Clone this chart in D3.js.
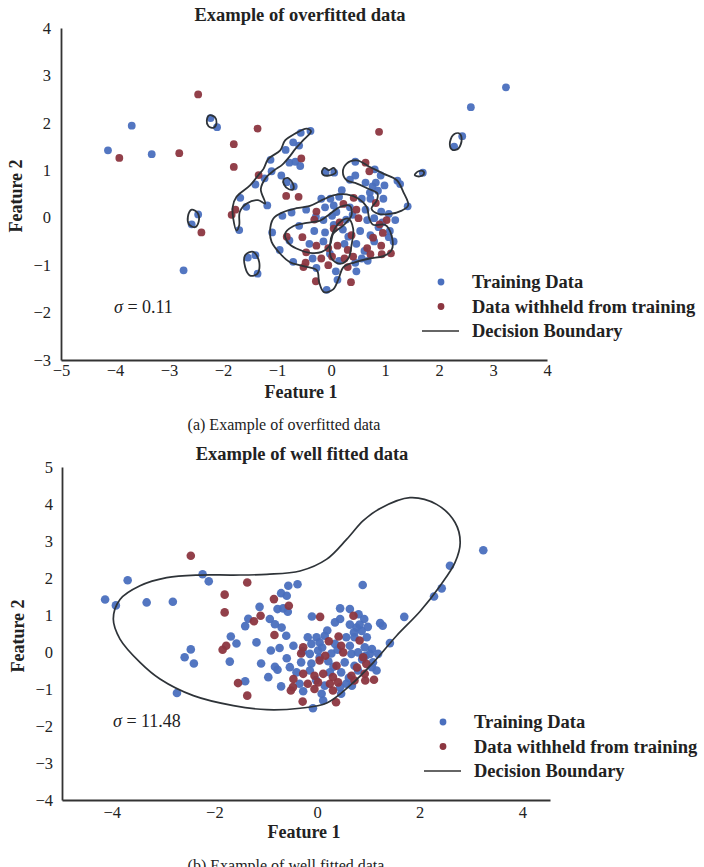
<!DOCTYPE html>
<html>
<head>
<meta charset="utf-8">
<script src="https://cdn.jsdelivr.net/npm/d3@7"></script>
<style>
  body { margin: 0; background: #fff; }
  svg text { font-family: "Liberation Serif", "DejaVu Serif", serif; fill: #222; }
</style>
</head>
<body>
<div id="chart_area"></div>
<script>
var W = 704, H = 867;

// [feature1, feature2, split in (a), split in (b)]  1 = training, 0 = withheld
var samples = [
  [-3.69,1.94,1,1],[-2.23,2.10,1,1],[-2.11,1.91,1,1],[-4.13,1.42,1,1],[-3.92,1.26,0,1],
  [-3.32,1.34,1,1],[-2.81,1.36,0,1],[-1.34,0.90,0,1],[-1.40,0.70,1,1],[-1.68,0.42,1,1],
  [-1.57,0.23,1,1],[-2.46,0.07,1,1],[-2.58,-0.14,1,1],[-2.40,-0.31,0,1],[-1.70,-0.26,1,1],
  [-1.40,-0.79,1,1],[-2.73,-1.11,1,1],[-0.56,1.79,1,1],[-0.38,1.83,1,1],[-0.70,1.59,1,1],
  [-0.59,1.52,1,1],[-0.77,1.16,1,1],[-0.66,1.18,1,1],[-0.57,1.09,1,1],[-1.12,1.22,1,1],
  [-0.92,0.89,1,1],[-0.82,0.75,1,1],[-0.69,0.66,1,1],[-0.60,0.44,0,1],[-1.18,0.26,1,1],
  [-0.90,0.04,1,1],[-0.73,0.11,1,1],[-0.46,0.17,1,1],[-0.10,0.96,1,1],[0.45,1.18,1,1],
  [0.64,1.16,0,1],[0.35,0.80,1,1],[0.45,0.89,1,1],[-1.09,-0.31,1,1],[-0.82,-0.40,0,1],
  [-0.77,-0.48,1,1],[-0.59,-0.17,1,1],[-0.53,-0.41,0,1],[-0.95,-0.68,1,1],[-0.70,-0.93,1,1],
  [-0.08,-1.52,1,1],[3.24,2.75,1,1],[2.59,2.33,1,1],[2.43,1.72,1,1],[2.28,1.50,1,1],
  [0.89,1.81,0,1],[1.70,0.95,1,1],[1.23,0.78,1,1],[1.28,0.71,1,1],[1.42,0.24,1,1],
  [0.81,1.02,1,1],[0.92,0.89,1,1],[0.77,0.66,1,1],[0.87,0.57,1,1],[0.97,0.40,1,1],
  [1.07,0.08,1,1],[1.07,-0.41,1,1],[0.68,-0.91,1,1],
  [0.64,0.74,1,1],[0.83,0.74,1,1],[0.99,0.68,1,1],[0.72,0.53,1,1],[-0.18,0.40,1,1],
  [-0.01,0.40,1,1],[0.15,0.44,1,1],[0.57,0.40,1,1],[0.73,0.40,1,1],[-0.11,0.22,1,1],
  [0.05,0.26,1,1],[0.35,0.22,1,1],[0.64,0.17,1,1],[0.93,0.13,1,1],[-0.14,-0.05,1,1],
  [0.02,0.04,1,1],[0.28,-0.04,1,1],[0.67,-0.05,1,1],[0.80,-0.01,1,1],[1.03,-0.05,0,1],
  [1.19,-0.05,1,1],[-0.31,-0.28,1,1],[-0.11,-0.31,1,1],[0.22,-0.25,1,1],[0.54,-0.28,1,1],
  [0.73,-0.37,1,1],[1.09,-0.28,1,1],[-0.14,-0.50,1,1],[0.25,-0.55,1,1],[0.47,-0.55,1,1],
  [0.80,-0.50,1,1],[1.16,-0.50,1,1],[-0.34,-0.86,1,1],[0.15,-0.91,1,1],[0.57,-0.86,1,1],
  [-0.27,-1.06,1,1],[0.09,-1.13,1,1],[0.47,-1.13,1,1],[0.12,-1.31,1,1],[0.10,0.12,1,1],
  [0.40,0.06,1,1],[-0.28,0.02,1,1],[0.32,-0.40,1,1],[0.62,-0.70,1,1],[-0.02,-0.76,1,1],
  [0.88,-0.20,1,1],[0.20,0.58,1,1],[0.05,-0.15,1,1],[0.45,-0.95,1,1],[-0.40,-0.55,1,1],
  [0.95,-0.10,1,1],
  [-2.46,2.60,0,0],[-1.36,1.88,0,0],[-1.80,1.55,0,0],[-1.80,1.07,0,0],[-1.77,0.17,0,0],
  [-1.84,0.06,0,0],[-1.54,-0.84,1,0],[-1.36,-1.18,1,0],[-0.84,1.43,1,0],[-0.55,1.25,0,0],
  [-1.10,0.98,1,0],[-1.23,0.83,1,0],[-0.83,0.46,0,0],[0.06,0.95,1,0],[0.71,0.98,0,0],
  [-0.46,-0.73,0,0],[-0.47,-0.95,0,0],[-0.51,-1.04,0,0],[-0.28,-1.34,0,0],[0.37,-1.36,0,0],
  [0.83,0.31,0,0],[0.90,-0.14,0,0],[0.94,-0.77,0,0],[1.11,-0.75,0,0],[0.42,0.42,0,0],
  [-0.27,0.13,0,0],[0.23,0.29,0,0],[0.47,0.17,0,0],[-0.31,-0.04,0,0],[0.16,-0.10,0,0],
  [0.51,-0.01,0,0],[0.05,-0.23,0,0],[0.38,-0.37,0,0],[0.96,-0.32,0,0],[-0.27,-0.59,0,0],
  [-0.05,-0.64,0,0],[0.12,-0.59,0,0],[0.31,-0.68,0,0],[0.67,-0.64,0,0],[0.93,-0.59,0,0],
  [-0.18,-0.86,0,0],[0.02,-0.82,0,0],[0.25,-0.86,0,0],[0.41,-0.82,0,0],[0.73,-0.77,0,0],
  [-0.05,-1.00,0,0],[0.31,-1.04,0,0],[0.78,-0.42,0,0]
];

// decision boundary, sigma = 0.11 (several closed contours)
var overfitLoops = [
  [[-2.30,2.05],[-2.25,2.16],[-2.15,2.12],[-2.12,2.00],[-2.17,1.90],[-2.27,1.93]],
  [[-2.65,0.02],[-2.58,0.17],[-2.47,0.10],[-2.45,-0.08],[-2.52,-0.20],[-2.63,-0.14]],
  [[-1.59,-0.79],[-1.44,-0.72],[-1.33,-0.93],[-1.36,-1.18],[-1.50,-1.22],[-1.59,-1.04]],
  [[2.20,1.55],[2.26,1.74],[2.37,1.78],[2.42,1.66],[2.36,1.46],[2.25,1.43]],
  [[1.55,0.90],[1.62,0.98],[1.71,0.98],[1.72,0.92],[1.64,0.87]],
  [[-0.17,0.97],[-0.12,1.05],[-0.04,1.00],[0.05,1.05],[0.09,0.96],[-0.04,0.89],[-0.14,0.90]],
  [[-0.88,0.80],[-0.80,0.84],[-0.70,0.70],[-0.70,0.60],[-0.78,0.60],[-0.87,0.70]],
  [[-1.75,-0.27],[-1.81,-0.02],[-1.82,0.23],[-1.75,0.44],[-1.50,0.68],[-1.35,0.89],[-1.25,1.03],
   [-1.16,1.24],[-0.94,1.42],[-0.85,1.63],[-0.67,1.77],[-0.45,1.88],[-0.37,1.82],[-0.50,1.65],
   [-0.66,1.45],[-0.76,1.30],[-0.90,1.12],[-1.05,1.00],[-1.20,0.85],[-1.30,0.60],[-1.22,0.30],
   [-1.35,0.37],[-1.56,0.30],[-1.69,0.12],[-1.70,-0.16]],
  [[0.29,1.14],[0.48,1.21],[0.72,1.07],[0.97,0.93],[1.22,0.79],[1.34,0.54],[1.43,0.26],[1.31,0.15],
   [1.09,0.08],[0.88,0.08],[0.75,0.19],[0.85,0.37],[0.86,0.51],[0.69,0.61],[0.48,0.72],[0.29,0.79],
   [0.22,0.96]],
  [[-1.13,-0.30],[-1.07,-0.02],[-0.88,0.12],[-0.64,0.20],[-0.39,0.25],[-0.17,0.37],[0.04,0.47],
   [0.29,0.49],[0.51,0.40],[0.66,0.23],[0.71,-0.02],[0.78,-0.15],[1.00,-0.15],[1.12,-0.37],
   [1.12,-0.69],[0.97,-0.81],[0.72,-0.86],[0.44,-0.94],[0.23,-1.04],[0.14,-1.29],[0.04,-1.51],
   [-0.13,-1.57],[-0.22,-1.36],[-0.26,-1.11],[-0.51,-1.02],[-0.76,-0.94],[-0.94,-0.76],[-1.10,-0.51]],
  [[-0.85,-0.34],[-0.70,-0.18],[-0.45,-0.11],[-0.20,-0.06],[-0.02,0.08],[0.17,0.23],[0.35,0.25],
   [0.38,0.05],[0.23,-0.16],[0.04,-0.34],[-0.02,-0.58],[-0.17,-0.72],[-0.39,-0.74],[-0.64,-0.65],
   [-0.79,-0.53]],
  [[0.17,-0.09],[0.32,-0.02],[0.41,-0.23],[0.38,-0.58],[0.32,-0.86],[0.17,-0.97],[0.01,-0.86],
   [-0.02,-0.58],[0.04,-0.30]]
];

// decision boundary, sigma = 11.48
var wellfitLoop = [
  [-3.97,0.89],[-3.84,1.42],[-3.45,1.79],[-2.93,2.01],[-2.28,2.08],[-1.63,2.08],[-0.98,2.10],
  [-0.33,2.19],[0.19,2.51],[0.58,3.05],[0.90,3.55],[1.23,3.88],[1.81,4.17],[2.33,3.99],
  [2.69,3.50],[2.79,2.96],[2.69,2.42],[2.40,1.79],[2.01,1.10],[1.55,0.44],[1.10,-0.28],
  [0.64,-0.91],[0.19,-1.38],[-0.33,-1.52],[-0.98,-1.56],[-1.63,-1.45],[-2.41,-1.18],
  [-3.06,-0.73],[-3.45,-0.28],[-3.84,0.35]
];

var xTicksA = [-5, -4, -3, -2, -1, 0, 1, 2, 3, 4];
var yTicksA = [-3, -2, -1, 0, 1, 2, 3, 4];
var xTicksB = [-4, -2, 0, 2, 4];
var yTicksB = [-4, -3, -2, -1, 0, 1, 2, 3, 4, 5];
var legendLabels = ["Training Data", "Data withheld from training", "Decision Boundary"];

var blue = "#4a6fbe", red = "#8c3640", ink = "#333";

var svg = d3.select("#chart_area").append("svg")
    .attr("width", W).attr("height", H);

function panel(opt) {
    var x = d3.scaleLinear().domain(opt.xDomain).range(opt.xRange);
    var y = d3.scaleLinear().domain(opt.yDomain).range(opt.yRange);
    var g = svg.append("g");

    // title
    g.append("text").attr("x", opt.titleX).attr("y", opt.titleY)
        .attr("text-anchor", "middle").attr("font-size", 18.5).attr("font-weight", "bold")
        .text(opt.title);

    // axes (no tick marks, only labels)
    var xAxis = g.append("g").attr("transform", "translate(0," + opt.yRange[0] + ")")
        .call(d3.axisBottom(x).tickValues(opt.xTicks).tickFormat(d3.format("d"))
            .tickSize(0).tickPadding(opt.xPad));
    var yAxis = g.append("g").attr("transform", "translate(" + opt.xRange[0] + ",0)")
        .call(d3.axisLeft(y).tickValues(opt.yTicks).tickFormat(d3.format("d"))
            .tickSize(0).tickPadding(opt.yPad));
    [xAxis, yAxis].forEach(function (a) {
        a.select(".domain").attr("stroke", ink).attr("stroke-width", 1.8);
        a.selectAll("text").attr("font-size", 16.5)
            .style("font-family", "'Liberation Serif', serif").attr("fill", "#222");
    });

    g.append("text").attr("x", opt.xLabelX).attr("y", opt.xLabelY)
        .attr("text-anchor", "middle").attr("font-size", 18).attr("font-weight", "bold")
        .text("Feature 1");
    g.append("text")
        .attr("transform", "translate(" + opt.yLabelX + "," + opt.yLabelY + ")rotate(-90)")
        .attr("text-anchor", "middle").attr("font-size", 18).attr("font-weight", "bold")
        .text("Feature 2");

    // points: training first, withheld on top
    var col = opt.split;
    var train = samples.filter(function (d) { return d[col] === 1; });
    var held = samples.filter(function (d) { return d[col] === 0; });
    g.selectAll(".train").data(train).enter().append("circle")
        .attr("cx", function (d) { return x(d[0]); })
        .attr("cy", function (d) { return y(d[1]); })
        .attr("r", opt.r).attr("fill", blue).attr("fill-opacity", 0.95);
    g.selectAll(".held").data(held).enter().append("circle")
        .attr("cx", function (d) { return x(d[0]); })
        .attr("cy", function (d) { return y(d[1]); })
        .attr("r", opt.r).attr("fill", red).attr("fill-opacity", 0.95);

    // decision boundary
    var line = d3.line()
        .x(function (d) { return x(d[0]); })
        .y(function (d) { return y(d[1]); })
        .curve(d3.curveCatmullRomClosed.alpha(0.5));
    g.selectAll(".boundary").data(opt.loops).enter().append("path")
        .attr("d", line).attr("fill", "none").attr("stroke", "#2e3338")
        .attr("stroke-width", opt.lw);

    // sigma
    g.append("text").attr("x", opt.sigmaX).attr("y", opt.sigmaY)
        .attr("font-size", 18).attr("font-style", "italic").text("σ")
        .append("tspan").attr("font-style", "normal").text(" = " + opt.sigma);

    // legend
    var lg = g.append("g").attr("transform", "translate(" + opt.legendX + "," + opt.legendY + ")");
    lg.append("circle").attr("cx", -31).attr("cy", 0).attr("r", 3.4).attr("fill", blue);
    lg.append("circle").attr("cx", -31).attr("cy", 24.5).attr("r", 3.4).attr("fill", red);
    lg.append("line").attr("x1", -50).attr("x2", -13).attr("y1", 49).attr("y2", 49)
        .attr("stroke", "#333").attr("stroke-width", 1.6);
    lg.selectAll(".lt").data(legendLabels).enter().append("text")
        .attr("x", 0).attr("y", function (d, i) { return i * 24.5 + 6; })
        .attr("font-size", 18.5).attr("font-weight", "bold").text(function (d) { return d; });

    // caption
    g.append("text").attr("x", opt.capX).attr("y", opt.capY).attr("text-anchor", "middle")
        .attr("font-size", 16).text(opt.caption);
}

panel({
    title: "Example of overfitted data", titleX: 300, titleY: 21,
    xDomain: [-5, 4], xRange: [61, 547], yDomain: [-3, 4], yRange: [360, 28],
    xTicks: xTicksA, yTicks: yTicksA, xPad: 4, yPad: 10,
    split: 2, loops: overfitLoops, r: 3.9, lw: 1.8,
    xLabelX: 301, xLabelY: 398, yLabelX: 22, yLabelY: 196,
    sigma: "0.11", sigmaX: 114, sigmaY: 313,
    legendX: 472, legendY: 282,
    caption: "(a) Example of overfitted data", capX: 284, capY: 430
});

panel({
    title: "Example of well fitted data", titleX: 302, titleY: 460,
    xDomain: [-4.97, 4.54], xRange: [62, 550], yDomain: [-4, 5], yRange: [800, 467],
    xTicks: xTicksB, yTicks: yTicksB, xPad: 6, yPad: 9,
    split: 3, loops: [wellfitLoop], r: 4.3, lw: 1.7,
    xLabelX: 304, xLabelY: 838, yLabelX: 24, yLabelY: 636,
    sigma: "11.48", sigmaX: 113, sigmaY: 727,
    legendX: 474, legendY: 722,
    caption: "(b) Example of well fitted data", capX: 286, capY: 871
});
</script>
</body>
</html>
